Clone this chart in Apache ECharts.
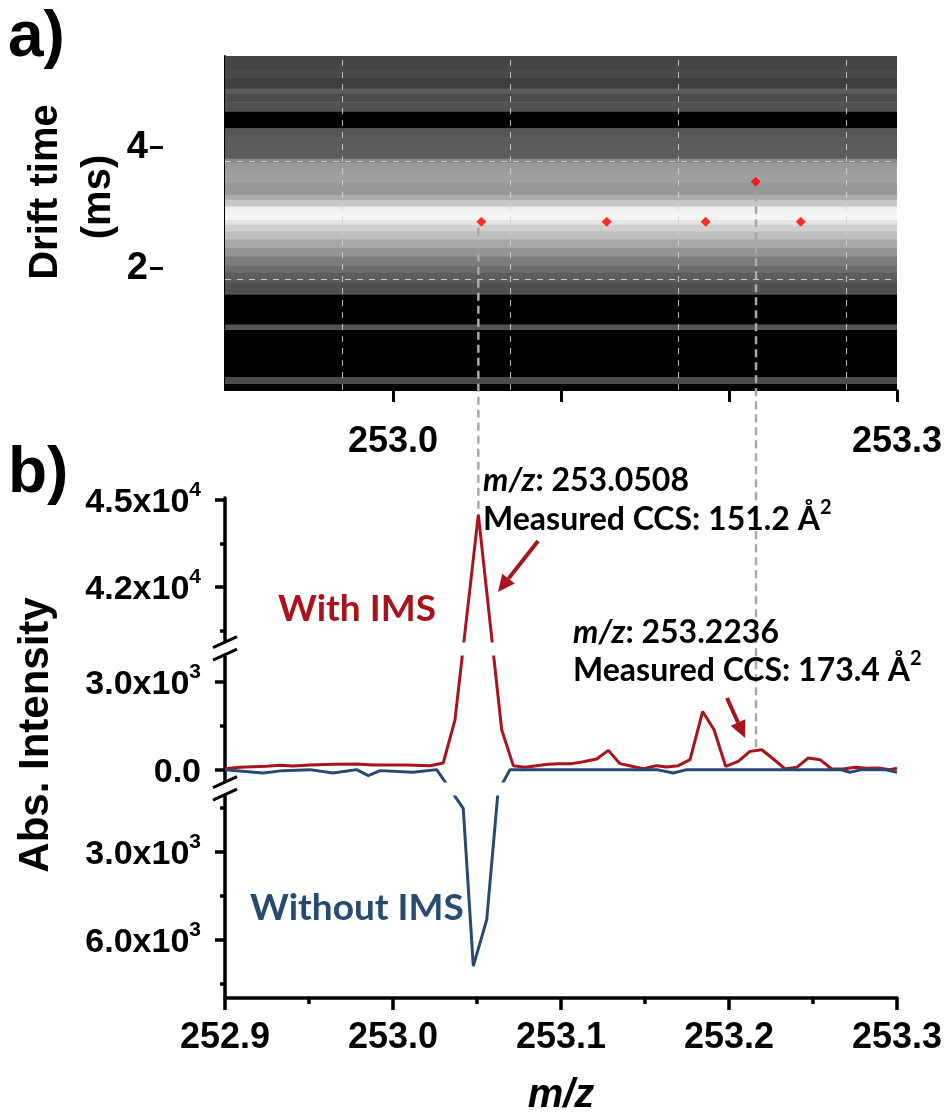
<!DOCTYPE html>
<html>
<head>
<meta charset="utf-8">
<script src="https://cdn.jsdelivr.net/npm/echarts@6/dist/echarts.min.js"></script>
<style>
  html, body { margin: 0; padding: 0; background: #fff; }
  #chart { width: 949px; height: 1120px; }
</style>
</head>
<body>
<div id="chart"></div>
<script>
var mzMin = 252.9, mzMax = 253.3;

// panel a: drift time bands (ms, top to bottom) and their grey level 0-255
var bandEdges = [5.5, 5.29, 5.15, 4.96, 4.88, 4.74, 4.58, 4.31, 4.17, 3.81, 3.74, 3.60, 3.41, 3.21, 3.13,
                 3.02, 2.92, 2.80, 2.72, 2.61, 2.48, 2.34, 2.20, 2.04, 1.93, 1.77, 1.57, 1.08, 0.99, 0.21, 0.10, 0];
var bandLevel = [69, 74, 64, 92, 76, 82, 0, 85, 92, 136, 154, 160, 152, 172, 200,
                 240, 245, 228, 208, 190, 168, 148, 124, 108, 92, 80, 0, 85, 0, 76, 0];
var spotMz = [253.0526, 253.1272, 253.1861, 253.2159, 253.2427];
var spotDt = [2.77, 2.77, 2.77, 3.43, 2.77];
var gridMz = [252.969, 253.0685, 253.1685, 253.2673];
var gridDt = [3.77, 1.83];

// panel b: spectra
var withMz = [252.9000, 252.9089, 252.9248, 252.9327, 252.9405, 252.9506, 252.9643, 252.9784, 252.9881, 252.9963,
              253.0082, 253.0220, 253.0299, 253.0369, 253.0508, 253.0647, 253.0716, 253.0786, 253.0855, 253.0924,
              253.0994, 253.1064, 253.1133, 253.1212, 253.1282, 253.1351, 253.1421, 253.1490, 253.1570, 253.1629,
              253.1698, 253.1768, 253.1843, 253.1911, 253.1980, 253.2055, 253.2125, 253.2195, 253.2264, 253.2333,
              253.2403, 253.2472, 253.2542, 253.2611, 253.2680, 253.2750, 253.2820, 253.2889, 253.2958, 253.3000];
var withInt = [34, 80, 114, 148, 125, 159, 182, 193, 159, 159,
               159, 136, 227, 1705, 44483, 1364, 136, 80, 136, 182,
               200, 205, 273, 364, 659, 205, 114, 30, 136, 91,
               136, 341, 1988, 1364, 114, 284, 625, 682, 364, 23,
               80, 398, 341, 23, 23, 80, 45, 57, 0, 45];
var withoutMz = [252.9000, 252.9226, 252.9345, 252.9506, 252.9643, 252.9784, 252.9853, 252.9923, 253.0119, 253.0260,
                 253.0418, 253.0478, 253.0558, 253.0625, 253.0696, 253.1570, 253.1668, 253.1748, 253.2661, 253.2720,
                 253.2790, 253.2929, 253.3000];
// plotted downward, so stored negative
var withoutInt = [0, -114, -34, 0, -114, 0, -205, -34, -91, 0,
                  -1510, -6910, -5318, -900, 0, 0, -114, 0, 0, -91,
                  0, 0, -91];

var yBreaks = [[-1055, -444], [3920, 40100]];
var yMajor = [-6000, -3000, 0, 3000, 42000, 45000];
var yMinor = [-7500, -4500, -1500, 1500, 40500, 43500];
// [m/z, drift time top, intensity bottom] for the dashed guides
var guides = [[253.0508, 2.67, 44483], [253.2161, 3.24, 650]];

var red = '#a8141c', blue = '#264a70';
var numFont = '"Liberation Sans", Arial, sans-serif';
var txtFont = 'Lato, "Open Sans", sans-serif';

function sciLabel(v) {
  var a = Math.abs(v);
  if (a === 0) return '{m|0.0}';
  var e = Math.floor(Math.log10(a) + 1e-9);
  return '{m|' + (a / Math.pow(10, e)).toFixed(1) + 'x10}{e|' + e + '}';
}

var bands = bandLevel.map(function (v, i) { return [bandEdges[i + 1], bandEdges[i], v]; });

var chart = echarts.init(document.getElementById('chart'));

chart.setOption({
  animation: false,
  backgroundColor: '#fff',
  grid: [
    { left: 225, right: 52, top: 56, height: 334 },
    { left: 225, right: 52, top: 498, height: 500 }
  ],
  visualMap: {
    show: false, type: 'continuous', seriesIndex: 0, dimension: 2,
    min: 0, max: 255, inRange: { color: ['#000000', '#ffffff'] }
  },
  xAxis: [
    {
      gridIndex: 0, type: 'value', min: mzMin, max: mzMax,
      axisLine: { lineStyle: { color: '#000', width: 2 } },
      axisTick: { customValues: [253.0, 253.1, 253.2, 253.3], length: 12, lineStyle: { color: '#000', width: 3 } },
      axisLabel: {
        customValues: [253.0, 253.3], margin: 34, color: '#000',
        fontFamily: numFont, fontWeight: 'bold', fontSize: 36,
        formatter: function (v) { return v.toFixed(1); }
      },
      splitLine: { show: false }
    },
    {
      gridIndex: 1, type: 'value', min: mzMin, max: mzMax, interval: 0.1,
      axisLine: { onZero: false, lineStyle: { color: '#000', width: 3.5 } },
      axisTick: { length: 12, lineStyle: { color: '#000', width: 3.5 } },
      minorTick: { show: true, splitNumber: 2, length: 6, lineStyle: { color: '#000', width: 3.5 } },
      axisLabel: {
        margin: 22, color: '#000', fontFamily: numFont, fontWeight: 'bold', fontSize: 36,
        formatter: function (v) { return v.toFixed(1); }
      },
      splitLine: { show: false },
      name: 'm/z', nameLocation: 'middle', nameGap: 78,
      nameTextStyle: { color: '#000', fontFamily: numFont, fontWeight: 'bold', fontStyle: 'italic', fontSize: 40 }
    }
  ],
  yAxis: [
    {
      gridIndex: 0, type: 'value', min: 0, max: 5.5,
      axisLine: { show: true, lineStyle: { color: '#000', width: 2 } },
      axisTick: { show: false }, axisLabel: { show: false }, splitLine: { show: false }
    },
    {
      gridIndex: 0, type: 'value', min: 0, max: 5.5, position: 'left', offset: 62,
      axisLine: { show: false },
      axisTick: { show: true, customValues: [2, 4], length: 13, lineStyle: { color: '#000', width: 3 } },
      axisLabel: {
        customValues: [2, 4], margin: 15, color: '#000',
        fontFamily: numFont, fontWeight: 'bold', fontSize: 38
      },
      splitLine: { show: false }
    },
    {
      gridIndex: 1, type: 'value', min: -8000, max: 45050,
      breaks: yBreaks.map(function (b) { return { start: b[0], end: b[1], gap: '2.5%' }; }),
      breakArea: {
        show: true, zigzagAmplitude: 0, zigzagZ: 100, expandOnClick: false,
        itemStyle: { color: '#fff', borderColor: 'rgba(0,0,0,0)', borderWidth: 0, opacity: 1 }
      },
      axisLine: { show: true, onZero: false, lineStyle: { color: '#000', width: 3.5 } },
      axisTick: { customValues: yMajor, length: 10, lineStyle: { color: '#000', width: 3.5 } },
      axisLabel: {
        customValues: yMajor, margin: 24, color: '#000',
        formatter: sciLabel,
        rich: {
          m: { fontFamily: numFont, fontWeight: 'bold', fontSize: 34, lineHeight: 40, verticalAlign: 'bottom', color: '#000' },
          e: { fontFamily: numFont, fontWeight: 'bold', fontSize: 21, lineHeight: 22, verticalAlign: 'top', color: '#000' }
        }
      },
      splitLine: { show: false }
    },
    {
      gridIndex: 1, type: 'value', min: -8000, max: 45050, position: 'left',
      breaks: yBreaks.map(function (b) { return { start: b[0], end: b[1], gap: '2.5%' }; }),
      breakArea: { show: false },
      axisLine: { show: false },
      axisTick: { customValues: yMinor, length: 5, lineStyle: { color: '#000', width: 3.5 } },
      axisLabel: { show: false },
      splitLine: { show: false }
    }
  ],
  series: [
    {
      type: 'custom', xAxisIndex: 0, yAxisIndex: 0, silent: true,
      data: bands,
      renderItem: function (params, api) {
        var lo = api.coord([mzMin, api.value(0)]);
        var hi = api.coord([mzMax, api.value(1)]);
        return {
          type: 'rect',
          shape: { x: lo[0], y: hi[1], width: hi[0] - lo[0], height: lo[1] - hi[1] + 0.5 },
          style: { fill: api.visual('color') }
        };
      }
    },
    {
      type: 'scatter', xAxisIndex: 0, yAxisIndex: 0, z: 5,
      symbol: 'diamond', symbolSize: 10, itemStyle: { color: '#ff0000' },
      data: spotMz.map(function (m, i) { return [m, spotDt[i]]; }),
      markLine: {
        silent: true, symbol: 'none', label: { show: false },
        lineStyle: { color: 'rgba(215,215,215,0.85)', type: [6, 6], width: 1 },
        data: gridMz.map(function (m) { return { xAxis: m }; })
          .concat(gridDt.map(function (d) { return { yAxis: d }; }))
      }
    },
    {
      name: 'With IMS', type: 'line', xAxisIndex: 1, yAxisIndex: 2,
      showSymbol: false, lineStyle: { color: red, width: 3 }, itemStyle: { color: red },
      data: withMz.map(function (m, i) { return [m, withInt[i]]; })
    },
    {
      name: 'Without IMS', type: 'line', xAxisIndex: 1, yAxisIndex: 2,
      showSymbol: false, lineStyle: { color: blue, width: 3 }, itemStyle: { color: blue },
      data: withoutMz.map(function (m, i) { return [m, withoutInt[i]]; })
    }
  ]
});

function arrow(x1, y1, x2, y2) {
  var dx = x2 - x1, dy = y2 - y1, L = Math.sqrt(dx * dx + dy * dy);
  var ux = dx / L, uy = dy / L, hl = 17, hw = 8;
  var bx = x2 - ux * hl, by = y2 - uy * hl;
  return [
    { type: 'line', z: 120, shape: { x1: x1, y1: y1, x2: bx, y2: by }, style: { stroke: red, lineWidth: 4 } },
    { type: 'polygon', z: 120, shape: { points: [[x2, y2], [bx - uy * hw, by + ux * hw], [bx + uy * hw, by - ux * hw]] },
      style: { fill: red } }
  ];
}

var annoRich = {
  i: { fontFamily: txtFont, fontWeight: 'bold', fontStyle: 'italic', fontSize: 32, lineHeight: 38, verticalAlign: 'bottom', fill: '#000' },
  b: { fontFamily: txtFont, fontWeight: 'bold', fontSize: 32, lineHeight: 38, verticalAlign: 'bottom', fill: '#000' },
  s: { fontFamily: txtFont, fontWeight: 'bold', fontSize: 20, lineHeight: 20, verticalAlign: 'top', fill: '#000' }
};
function anno(x, y, text) {
  return { type: 'text', z: 110, x: x, y: y, style: { text: text, rich: annoRich, align: 'left', verticalAlign: 'middle' } };
}

var g = [];
// dashed guides from the drift-time spots down to the spectrum peaks
guides.forEach(function (p) {
  var top = chart.convertToPixel({ gridIndex: 0 }, [p[0], p[1]]);
  var bot = chart.convertToPixel({ xAxisIndex: 1, yAxisIndex: 2 }, [p[0], p[2]]);
  g.push({ type: 'line', z: 105, shape: { x1: top[0], y1: top[1], x2: bot[0], y2: bot[1] },
           style: { stroke: '#a9a9a9', lineWidth: 2.5, lineDash: [8, 5] } });
});
// axis break marks
var axX = chart.convertToPixel({ xAxisIndex: 1 }, mzMin);
yBreaks.forEach(function (b) {
  var y1 = chart.convertToPixel({ yAxisIndex: 2 }, b[0]);
  var y2 = chart.convertToPixel({ yAxisIndex: 2 }, b[1]);
  g.push({ type: 'rect', z: 130, shape: { x: axX - 3, y: Math.min(y1, y2), width: 6, height: Math.abs(y1 - y2) }, style: { fill: '#fff' } });
  [y1, y2].forEach(function (yy) {
    g.push({ type: 'line', z: 131, shape: { x1: axX - 12, y1: yy + 5, x2: axX + 12, y2: yy - 6 }, style: { stroke: '#000', lineWidth: 3 } });
  });
});
g = g.concat(arrow(538, 541, 498, 592), arrow(727, 698, 745, 738));
g.push(
  anno(483, 478, '{i|m/z}{b|: 253.0508}'),
  anno(483, 517, '{b|Measured CCS: 151.2 Å}{s|2}'),
  anno(573, 630, '{i|m/z}{b|: 253.2236}'),
  anno(573, 668, '{b|Measured CCS: 173.4 Å}{s|2}'),
  { type: 'text', z: 110, x: 278, y: 609, style: { text: 'With IMS', fill: red, font: 'bold 37px ' + txtFont, align: 'left', verticalAlign: 'middle' } },
  { type: 'text', z: 110, x: 250, y: 908, style: { text: 'Without IMS', fill: blue, font: 'bold 37px ' + txtFont, align: 'left', verticalAlign: 'middle' } },
  { type: 'text', x: 8, y: 38, style: { text: 'a)', fill: '#000', font: 'bold 64px ' + numFont, align: 'left', verticalAlign: 'middle' } },
  { type: 'text', x: 8, y: 474, style: { text: 'b)', fill: '#000', font: 'bold 64px ' + numFont, align: 'left', verticalAlign: 'middle' } },
  { type: 'text', x: 46, y: 192, rotation: Math.PI / 2, style: { text: 'Drift time', fill: '#000', font: 'bold 40px ' + numFont, align: 'center', verticalAlign: 'middle' } },
  { type: 'text', x: 99, y: 197, rotation: Math.PI / 2, style: { text: '(ms)', fill: '#000', font: 'bold 40px ' + numFont, align: 'center', verticalAlign: 'middle' } },
  { type: 'text', x: 36, y: 735, rotation: Math.PI / 2, style: { text: 'Abs. Intensity', fill: '#000', font: 'bold 42px ' + numFont, align: 'center', verticalAlign: 'middle' } }
);
chart.setOption({ graphic: g });
</script>
</body>
</html>
